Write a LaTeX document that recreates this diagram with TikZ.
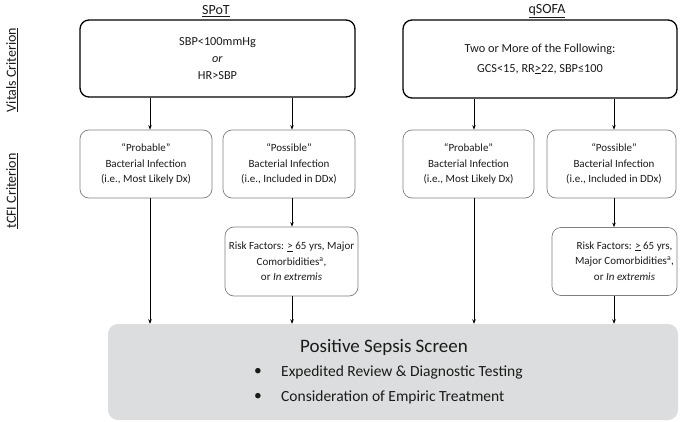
\documentclass[tikz,border=0pt]{standalone}
\usepackage{fontspec}
\setmainfont{Carlito}
\usetikzlibrary{arrows.meta}
\definecolor{txt}{HTML}{1A1A1A}
\definecolor{screenfill}{HTML}{DCDDDE}
\definecolor{subedge}{HTML}{7F7F7F}
\begin{document}
\begin{tikzpicture}[x=1pt,y=-1pt,
  topbox/.style={draw=black, line width=1.3pt, rounded corners=9pt, inner sep=0pt,
    align=center, text=txt, font=\fontsize{12.3}{17}\selectfont},
  subbox/.style={draw=subedge, line width=0.7pt, rounded corners=9pt, inner sep=0pt,
    align=center, text=txt, font=\fontsize{11}{15.5}\selectfont},
  screenbox/.style={fill=screenfill, draw=none, rounded corners=10pt, inner sep=0pt},
  heading/.style={text=txt, font=\fontsize{14}{16}\selectfont, inner sep=0pt},
  bodytext/.style={text=txt, font=\fontsize{15.5}{17}\selectfont, inner sep=0pt, anchor=west},
  arr/.style={-{Stealth[length=4.5pt,width=3.5pt]}, line width=0.8pt, draw=black}]
\useasboundingbox (0,0) rectangle (685,422);

% headings
\node[heading] (spottitle) at (216,11) {\underline{SPoT}};
\node[heading] (qtitle) at (547,11) {\underline{qSOFA}};
\node[heading, rotate=90] (vitals) at (12,70) {\underline{Vitals Criterion}};
\node[heading, rotate=90] (tcfi) at (12,191) {\underline{tCFI Criterion}};

% top boxes
\node[topbox, minimum width=275pt, minimum height=77pt] (spot) at (217.5,58.5)
  {SBP<100mmHg\\ \textit{or}\\ HR>SBP};
\node[topbox, minimum width=274pt, minimum height=78pt, font=\fontsize{12.3}{20}\selectfont] (qsofa) at (540,59)
  {Two or More of the Following:\\ GCS<15, RR\underline{>}22, SBP≤100};

% second row
\node[subbox, minimum width=132pt, minimum height=68pt] (probl) at (146,164)
  {“Probable”\\ Bacterial Infection\\ (i.e., Most Likely Dx)};
\node[subbox, minimum width=132pt, minimum height=68pt] (possl) at (289,164)
  {“Possible”\\ Bacterial Infection\\ (i.e., Included in DDx)};
\node[subbox, minimum width=131pt, minimum height=68pt] (probr) at (468.5,164)
  {“Probable”\\ Bacterial Infection\\ (i.e., Most Likely Dx)};
\node[subbox, minimum width=129pt, minimum height=68pt] (possr) at (611.5,164)
  {\begin{tabular}{@{\hspace{5pt}}c@{}}“Possible”\\ Bacterial Infection\\ (i.e., Included in DDx)\end{tabular}};

% risk boxes
\node[subbox, minimum width=133pt, minimum height=69pt] (riskl) at (291.5,261.5)
  {Risk Factors: \underline{>} 65 yrs, Major\\ Comorbidities\textsuperscript{a},\\ or \textit{In extremis}};
\node[subbox, minimum width=125pt, minimum height=68pt] (riskr) at (614.5,261.5)
  {\begin{tabular}{@{\hspace{20pt}}c@{}}Risk Factors: \underline{>} 65 yrs,\\ Major Comorbidities\textsuperscript{a},\\ or \textit{In extremis}\end{tabular}};

% screen
\node[screenbox, minimum width=570pt, minimum height=96pt] (screen) at (393,372) {};
\node[text=txt, font=\fontsize{19}{21}\selectfont, inner sep=0pt] (screentitle) at (384,347) {Positive Sepsis Screen};
\node[bodytext] (b1) at (254,372) {•};
\node[bodytext] (t1) at (281,372) {Expedited Review \& Diagnostic Testing};
\node[bodytext] (b2) at (254,397) {•};
\node[bodytext] (t2) at (281,397) {Consideration of Empiric Treatment};

% arrow columns
\coordinate (c1) at (150,0);
\coordinate (c2) at (292,0);
\coordinate (c3) at (474,0);
\coordinate (c4) at (614,0);

\draw[arr] (spot.south -| c1) -- (probl.north -| c1);
\draw[arr] (spot.south -| c2) -- (possl.north -| c2);
\draw[arr] (qsofa.south -| c3) -- (probr.north -| c3);
\draw[arr] (qsofa.south -| c4) -- (possr.north -| c4);
\draw[arr] (possl.south -| c2) -- (riskl.north -| c2);
\draw[arr] (possr.south -| c4) -- (riskr.north -| c4);
\draw[arr] (probl.south -| c1) -- (screen.north -| c1);
\draw[arr] (riskl.south -| c2) -- (screen.north -| c2);
\draw[arr] (probr.south -| c3) -- (screen.north -| c3);
\draw[arr] (riskr.south -| c4) -- (screen.north -| c4);
\end{tikzpicture}
\end{document}
